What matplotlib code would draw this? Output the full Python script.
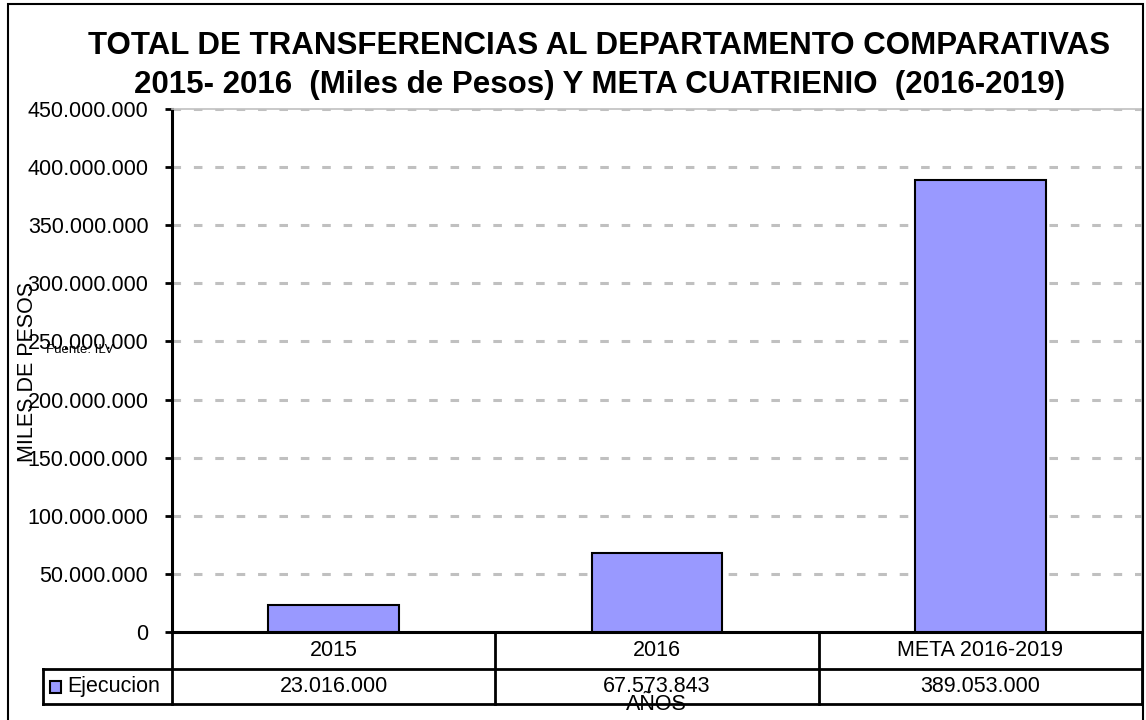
import matplotlib
matplotlib.use("Agg")
import matplotlib.pyplot as plt
from matplotlib.patches import Rectangle
from matplotlib.lines import Line2D
import matplotlib.transforms as mtrans

categories = ["2015", "2016", "META 2016-2019"]
values = [23016000, 67573843, 389053000]
series_name = "Ejecucion"
yticks = list(range(0, 450000001, 50000000))

def fmt(v):
    return f"{int(round(v)):,}".replace(",", ".")

plt.rcParams['font.family'] = ['Liberation Sans', 'DejaVu Sans']

W, H = 1146, 720
fig = plt.figure(figsize=(W / 100, H / 100), dpi=100)

def fx(px):
    return px / W

def fy(py):
    return 1 - py / H

FS = 15.5

# figure border
fig.patches.append(Rectangle((fx(8), fy(740)), fx(1143) - fx(8), fy(4) - fy(740),
                             transform=fig.transFigure, fill=False, edgecolor='black',
                             linewidth=1.5, zorder=0))

L, R, T, B = 172, 1142, 109, 632
ax = fig.add_axes([fx(L), fy(B), fx(R) - fx(L), fy(T) - fy(B)])

bar_color = '#9999ff'
x = [i + 0.5 for i in range(len(categories))]
ax.bar(x, values, width=0.405, color=bar_color, edgecolor='black', linewidth=1.5, zorder=3)

ax.set_xlim(0, len(categories))
ax.set_ylim(0, 450000000)
ax.set_yticks(yticks)
ax.set_yticklabels([fmt(v) for v in yticks], fontsize=FS)
ax.set_xticks([])
ax.tick_params(axis='y', direction='out', length=5, width=2, pad=12, color='black')
ax.yaxis.grid(True, color='#c0c0c0', linewidth=2.2, linestyle=(0, (2.8, 4.2)), zorder=1)
ax.set_axisbelow(True)

for s in ['top', 'right']:
    ax.spines[s].set_color('#c0c0c0')
    ax.spines[s].set_linewidth(1.2)
ax.spines['left'].set_linewidth(2.2)
ax.spines['bottom'].set_linewidth(2.2)

# data table below the axes
tr = mtrans.blended_transform_factory(ax.transData, fig.transFigure)
row_y = [fy(632), fy(669), fy(704)]
label_left = (43 - L) / ((R - L) / len(categories))
n = len(categories)
lw = 2.0
ax.add_line(Line2D([0, n], [row_y[0], row_y[0]], transform=tr, color='black', lw=lw, clip_on=False))
ax.add_line(Line2D([label_left, n], [row_y[1], row_y[1]], transform=tr, color='black', lw=lw, clip_on=False))
ax.add_line(Line2D([label_left, n], [row_y[2], row_y[2]], transform=tr, color='black', lw=lw, clip_on=False))
ax.add_line(Line2D([label_left, label_left], [row_y[1], row_y[2]], transform=tr, color='black', lw=lw, clip_on=False))
for i in range(n + 1):
    ax.add_line(Line2D([i, i], [row_y[0], row_y[2]], transform=tr, color='black', lw=lw, clip_on=False))

for i, (c, v) in enumerate(zip(categories, values)):
    ax.text(i + 0.5, (row_y[0] + row_y[1]) / 2, c, transform=tr, ha='center', va='center', fontsize=FS)
    ax.text(i + 0.5, (row_y[1] + row_y[2]) / 2, fmt(v), transform=tr, ha='center', va='center', fontsize=FS)

# legend key in table
fig.patches.append(Rectangle((fx(50), fy(693)), fx(61) - fx(50), fy(681) - fy(693),
                             transform=fig.transFigure, facecolor=bar_color, edgecolor='black',
                             linewidth=1.5, zorder=5))
fig.text(fx(67), (row_y[1] + row_y[2]) / 2, series_name, ha='left', va='center', fontsize=FS)

# title
fig.text(fx(599), fy(46), "TOTAL DE TRANSFERENCIAS AL DEPARTAMENTO COMPARATIVAS",
         ha='center', va='center', fontsize=22.5, fontweight='bold')
fig.text(fx(599), fy(85), "2015- 2016  (Miles de Pesos) Y META CUATRIENIO  (2016-2019)",
         ha='center', va='center', fontsize=22.5, fontweight='bold')

# axis labels
fig.text(fx(28), fy(372), "MILES DE PESOS", rotation=90, ha='center', va='center', fontsize=FS)
fig.text(fx(656), fy(704), "AÑOS", ha='center', va='center', fontsize=FS)
fig.text(fx(80), fy(350), "Fuente: ILV", ha='center', va='center', fontsize=9.5)

fig.savefig("out.png", dpi=100)
